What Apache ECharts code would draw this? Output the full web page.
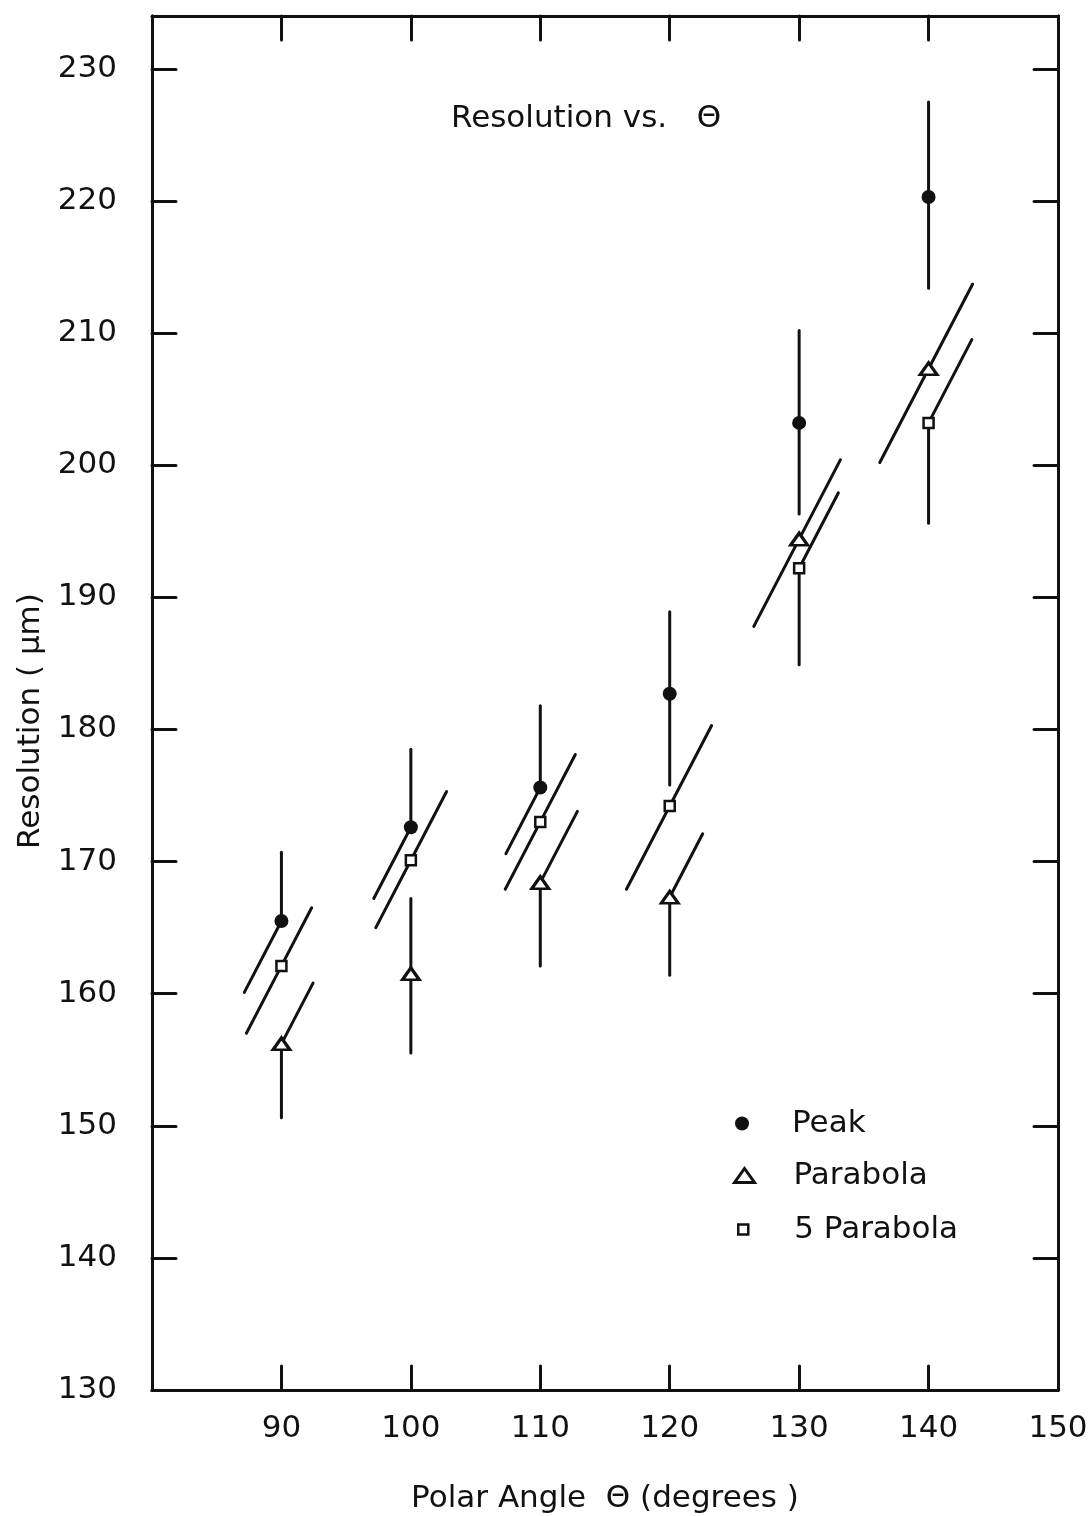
<!DOCTYPE html>
<html>
<head>
<meta charset="utf-8">
<script src="https://cdn.jsdelivr.net/npm/echarts@6/dist/echarts.min.js"></script>
<style>
  html, body { margin: 0; padding: 0; background: #fff; }
  #chart { width: 1089px; height: 1516px; }
</style>
</head>
<body>
<div id="chart"></div>
<script>
// Polar angle of each measurement column (degrees)
const angles = [90, 100, 110, 120, 130, 140];

// Resolution (µm) and the upper / lower extent of each error bar
const peak = [165.5, 172.6, 175.6, 182.7, 203.2, 220.3];
const peakErrUp = [5.2, 5.9, 6.2, 6.2, 7.0, 7.2];
const peakErrDown = [5.4, 5.4, 5.0, 6.9, 6.9, 6.9];

const parabola = [156.2, 161.5, 168.4, 167.3, 194.4, 207.3];
const parabolaErrUp = [4.6, 5.7, 5.4, 4.8, 6.0, 6.4];
const parabolaErrDown = [5.6, 6.0, 6.3, 5.9, 6.6, 7.1];

const fiveParabola = [162.1, 170.1, 173.0, 174.2, 192.2, 203.2];
const fiveParabolaErrUp = [4.4, 5.2, 5.1, 6.1, 5.7, 6.3];
const fiveParabolaErrDown = [5.1, 5.1, 5.1, 6.3, 7.3, 7.6];

// Axis ranges and tick spacing
const xRange = [80, 150];
const xStep = 10;
const yRange = [130, 234];
const yStep = 10;

// ---- drawing ----
const INK = '#111';
const FONT = 'DejaVu Sans';
const FS = 31;

// Halves of an error bar drawn leaning sideways (1) instead of upright (0),
// which keeps crowded columns readable.
const leanUp = {
  'Peak':       [0, 0, 0, 0, 0, 0],
  'Parabola':   [1, 0, 1, 1, 1, 1],
  '5 Parabola': [1, 1, 1, 1, 1, 1]
};
const leanDown = {
  'Peak':       [1, 1, 1, 0, 0, 0],
  'Parabola':   [0, 0, 0, 0, 1, 1],
  '5 Parabola': [1, 1, 1, 1, 0, 0]
};
const LEAN = 0.52; // horizontal run per pixel of vertical rise for leaning halves

function errorBars(name, values, up, down) {
  const data = angles.map((a, i) => [
    a, values[i], values[i] + up[i], values[i] - down[i],
    leanUp[name][i], leanDown[name][i]
  ]);
  return {
    type: 'custom',
    name: name + ' error',
    data: data,
    z: 2,
    silent: true,
    encode: { x: 0, y: [1, 2, 3] },
    renderItem(params, api) {
      const c = api.coord([api.value(0), api.value(1)]);
      const t = api.coord([api.value(0), api.value(2)]);
      const b = api.coord([api.value(0), api.value(3)]);
      const topX = api.value(4) ? c[0] + LEAN * (c[1] - t[1]) : c[0];
      const botX = api.value(5) ? c[0] - LEAN * (b[1] - c[1]) : c[0];
      const st = { stroke: INK, lineWidth: 3, lineCap: 'round' };
      return {
        type: 'group',
        children: [
          { type: 'line', shape: { x1: c[0], y1: c[1], x2: topX, y2: t[1] }, style: st },
          { type: 'line', shape: { x1: c[0], y1: c[1], x2: botX, y2: b[1] }, style: st }
        ]
      };
    }
  };
}

const TRIANGLE = 'path://M0,14 L10,0 L20,14 Z';

const markerStyle = {
  'Peak':       { symbol: 'circle', size: 14, style: { color: INK, opacity: 1 } },
  'Parabola':   { symbol: TRIANGLE, size: [17, 12], style: { color: '#fff', borderColor: INK, borderWidth: 3, opacity: 1 } },
  '5 Parabola': { symbol: 'rect', size: 10, style: { color: '#fff', borderColor: INK, borderWidth: 2.5, opacity: 1 } }
};

function points(name, values) {
  const m = markerStyle[name];
  return {
    type: 'scatter',
    name: name,
    data: angles.map((a, i) => [a, values[i]]),
    symbol: m.symbol,
    symbolSize: m.size,
    itemStyle: m.style,
    z: 5,
    silent: true
  };
}

// One small legend block per series so every key symbol keeps its own size
function legendRow(name, top, left, size, textPad) {
  const m = markerStyle[name];
  return {
    data: [{ name: name, icon: m.symbol }],
    orient: 'vertical',
    left: left,
    top: top,
    padding: 0,
    itemWidth: size[0],
    itemHeight: size[1],
    selectedMode: false,
    itemStyle: m.style,
    textStyle: { color: INK, fontFamily: FONT, fontSize: FS, padding: [0, 0, 0, textPad] }
  };
}

const axisLineStyle = { color: INK, width: 3 };
const tickStyle = { show: true, inside: true, length: 24, lineStyle: { color: INK, width: 3, cap: 'round' } };
const labelStyle = { color: INK, fontFamily: FONT, fontSize: FS };

const chart = echarts.init(document.getElementById('chart'), null, { renderer: 'canvas' });
chart.setOption({
  backgroundColor: '#fff',
  animation: false,
  title: {
    text: 'Resolution vs.   \u0398',
    left: 446,
    top: 98,
    textStyle: { color: INK, fontFamily: FONT, fontSize: FS, fontWeight: 'normal' }
  },
  legend: [
    legendRow('Peak', 1108, 735, [14, 14], 38),
    legendRow('Parabola', 1160, 733, [20, 14], 34),
    legendRow('5 Parabola', 1214, 737, [10, 10], 41)
  ],
  grid: { left: 152, right: 31, top: 16, bottom: 126, outerBoundsMode: 'none' },
  xAxis: [
    {
      type: 'value', min: xRange[0], max: xRange[1], interval: xStep,
      name: 'Polar Angle  \u0398 (degrees )',
      nameLocation: 'middle', nameGap: 93,
      nameTextStyle: labelStyle,
      axisLine: { show: true, lineStyle: axisLineStyle },
      axisTick: tickStyle,
      axisLabel: { ...labelStyle, margin: 23, showMinLabel: false },
      splitLine: { show: false }
    },
    {
      type: 'value', position: 'top', min: xRange[0], max: xRange[1], interval: xStep,
      axisLine: { show: true, lineStyle: axisLineStyle },
      axisTick: tickStyle,
      axisLabel: { show: false },
      splitLine: { show: false }
    }
  ],
  yAxis: [
    {
      type: 'value', min: yRange[0], max: yRange[1], interval: yStep,
      name: 'Resolution ( \u03bcm)',
      nameLocation: 'middle', nameGap: 100,
      nameTextStyle: { ...labelStyle, padding: [0, 36, 0, 0] },
      axisLine: { show: true, lineStyle: axisLineStyle },
      axisTick: tickStyle,
      axisLabel: {
        ...labelStyle, margin: 35, showMaxLabel: false,
        formatter: v => (v % yStep === 0 ? String(v) : '')
      },
      splitLine: { show: false }
    },
    {
      type: 'value', position: 'right', min: yRange[0], max: yRange[1], interval: yStep,
      axisLine: { show: true, lineStyle: axisLineStyle },
      axisTick: tickStyle,
      axisLabel: { show: false },
      splitLine: { show: false }
    }
  ],
  series: [
    errorBars('Peak', peak, peakErrUp, peakErrDown),
    errorBars('Parabola', parabola, parabolaErrUp, parabolaErrDown),
    errorBars('5 Parabola', fiveParabola, fiveParabolaErrUp, fiveParabolaErrDown),
    points('Peak', peak),
    points('Parabola', parabola),
    points('5 Parabola', fiveParabola)
  ]
});
</script>
</body>
</html>
